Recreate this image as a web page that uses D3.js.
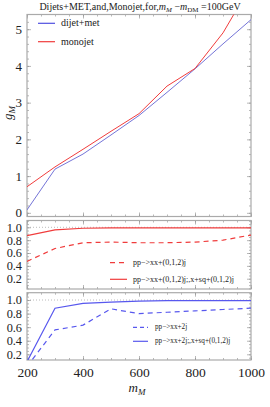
<!DOCTYPE html>
<html>
<head>
<meta charset="utf-8">
<script src="https://cdn.jsdelivr.net/npm/d3@7"></script>
<style>
  body { margin: 0; background: #fff; }
  svg text { font-family: "Liberation Serif", "DejaVu Serif", serif; fill: #222; }
</style>
</head>
<body>
<div id="chart"></div>
<script>
// m_M values (GeV)
let massValues = [200, 300, 400, 500, 600, 700, 800, 900, 1000];

// top panel: g_M
let gDijet = [0.08, 1.19, 1.6, 2.12, 2.65, 3.28, 3.92, 4.6, 5.26];
let gMonojet = [0.71, 1.25, 1.73, 2.22, 2.7, 3.45, 3.93, 4.9, 6.2];

// middle panel: monojet ratios
let monoDashed = [0.47, 0.67, 0.76, 0.77, 0.76, 0.76, 0.77, 0.8, 0.88];
let monoSolid = [0.87, 0.96, 0.985, 0.99, 0.99, 0.99, 0.99, 0.99, 0.99];

// bottom panel: dijet ratios
let dijetDashed = [0.02, 0.56, 0.63, 0.87, 0.8, 0.82, 0.84, 0.86, 0.88];
let dijetSolid = [0.09, 0.88, 0.95, 0.97, 0.985, 0.99, 0.99, 0.99, 0.99];

let topTicks = [0, 1, 2, 3, 4, 5];
let ratioTicks = [0.2, 0.4, 0.6, 0.8, 1.0];
let xTicks = [200, 400, 600, 800, 1000];

let w = 270, h = 407;
let left = 27, right = 251;
let red = "#f03c3c", blue = "#5858ee";

let svg = d3.select("#chart").append("svg")
    .attr("width", w)
    .attr("height", h);

let xScale = d3.scaleLinear().domain([200, 1000]).range([left, right]);

let panels = [
    {id: "top", domain: [-0.1, 5.4], range: [216.5, 14.5], major: topTicks, minorStep: 0.2, fmt: d3.format("d"), fs: 13},
    {id: "mid", domain: [0.04, 1.106], range: [289, 220.5], major: ratioTicks, minorStep: 0.05, fmt: d3.format(".1f"), fs: 12.3},
    {id: "bot", domain: [0.116, 1.108], range: [360, 292.7], major: ratioTicks, minorStep: 0.05, fmt: d3.format(".1f"), fs: 12.3}
];

let minorX = d3.range(200, 1001, 50);

panels.forEach(function (p) {
    p.y = d3.scaleLinear().domain(p.domain).range(p.range);
    let top = p.range[1], bottom = p.range[0];

    svg.append("clipPath").attr("id", "clip-" + p.id)
        .append("rect")
        .attr("x", left).attr("y", top)
        .attr("width", right - left).attr("height", bottom - top);

    let minorY = d3.range(Math.ceil(p.domain[0] / p.minorStep) * p.minorStep, p.domain[1], p.minorStep)
        .map(function (v) { return +v.toFixed(3); });

    // left axis with labels
    let gl = svg.append("g").attr("class", "axis")
        .attr("transform", "translate(" + left + ",0)")
        .call(d3.axisLeft(p.y).tickValues(p.major).tickSize(-4).tickPadding(5).tickFormat(p.fmt));
    svg.append("g").attr("transform", "translate(" + left + ",0)")
        .call(d3.axisLeft(p.y).tickValues(minorY).tickSize(-2).tickFormat(""));
    // right axis
    svg.append("g").attr("transform", "translate(" + right + ",0)")
        .call(d3.axisRight(p.y).tickValues(p.major).tickSize(-4).tickFormat(""));
    svg.append("g").attr("transform", "translate(" + right + ",0)")
        .call(d3.axisRight(p.y).tickValues(minorY).tickSize(-2).tickFormat(""));
    // top & bottom axes
    svg.append("g").attr("transform", "translate(0," + top + ")")
        .call(d3.axisTop(xScale).tickValues(xTicks).tickSize(-4).tickFormat(""));
    svg.append("g").attr("transform", "translate(0," + top + ")")
        .call(d3.axisTop(xScale).tickValues(minorX).tickSize(-2).tickFormat(""));
    let gb = svg.append("g").attr("transform", "translate(0," + bottom + ")")
        .call(d3.axisBottom(xScale).tickValues(xTicks).tickSize(-4).tickPadding(7)
            .tickFormat(p.id === "bot" ? d3.format("d") : ""));
    svg.append("g").attr("transform", "translate(0," + bottom + ")")
        .call(d3.axisBottom(xScale).tickValues(minorX).tickSize(-2).tickFormat(""));

    gl.selectAll("text").style("font-size", p.fs + "px");
    gb.selectAll("text").style("font-size", "13.5px");

    // frame
    svg.append("rect")
        .attr("x", left).attr("y", top)
        .attr("width", right - left).attr("height", bottom - top)
        .attr("fill", "none").attr("stroke", "#aaa").attr("stroke-width", 1.2);
});

svg.selectAll(".domain").remove();
svg.selectAll(".tick line").attr("stroke", "#888").attr("stroke-width", 0.6);

function drawLine(panel, values, color, dash, width) {
    let line = d3.line()
        .x(function (d, i) { return xScale(massValues[i]); })
        .y(function (d) { return panel.y(d); });
    svg.append("path")
        .datum(values)
        .attr("clip-path", "url(#clip-" + panel.id + ")")
        .attr("fill", "none")
        .attr("stroke", color)
        .attr("stroke-width", width || 1)
        .attr("stroke-dasharray", dash || null)
        .attr("d", line);
}

// reference line at 1.0
[panels[1], panels[2]].forEach(function (p) {
    svg.append("line")
        .attr("x1", left).attr("x2", right)
        .attr("y1", p.y(1)).attr("y2", p.y(1))
        .attr("stroke", "#aaa").attr("stroke-width", 0.8)
        .attr("stroke-dasharray", "1,2");
});

drawLine(panels[0], gDijet, "#6464d2", null, 0.9);
drawLine(panels[0], gMonojet, red, null, 1);
drawLine(panels[1], monoSolid, red, null, 1.2);
drawLine(panels[1], monoDashed, red, "5,4", 1.2);
drawLine(panels[2], dijetSolid, blue, null, 1.2);
drawLine(panels[2], dijetDashed, blue, "5,4", 1.2);

// legends
function legend(items, x1, x2, tx, fontSize) {
    items.forEach(function (it) {
        svg.append("line")
            .attr("x1", x1).attr("x2", x2).attr("y1", it.y).attr("y2", it.y)
            .attr("stroke", it.color).attr("stroke-width", 1.2)
            .attr("stroke-dasharray", it.dash || null);
        svg.append("text")
            .attr("x", tx).attr("y", it.y + fontSize * 0.3)
            .style("font-size", fontSize + "px")
            .text(it.label);
    });
}

legend([
    {y: 23.3, color: "#5050e0", label: "dijet+met"},
    {y: 41.7, color: red, label: "monojet"}
], 38, 55, 61, 10);

legend([
    {y: 262.7, color: red, dash: "5,4", label: "pp\u2212>xx+(0,1,2)j"},
    {y: 279.3, color: red, label: "pp\u2212>xx+(0,1,2)j;,x+sq+(0,1,2)j"}
], 110, 127, 133, 8);

legend([
    {y: 327.3, color: blue, dash: "4,3", label: "pp\u2212>xx+2j"},
    {y: 341.3, color: blue, label: "pp\u2212>xx+2j;,x+sq+(0,1,2)j"}
], 133, 148, 155, 7.2);

// title
let title = svg.append("text")
    .attr("x", 140).attr("y", 10)
    .attr("text-anchor", "middle")
    .style("font-size", "10px");
title.append("tspan").text("Dijets+MET,and,Monojet,for,");
title.append("tspan").style("font-style", "italic").text("m");
title.append("tspan").attr("dy", 2).style("font-size", "7px").style("font-style", "italic").text("M");
title.append("tspan").attr("dy", -2).text(" \u2212");
title.append("tspan").style("font-style", "italic").text("m");
title.append("tspan").attr("dy", 2).style("font-size", "7px").text("DM");
title.append("tspan").attr("dy", -2).text(" =100GeV");

// axis labels
let yLabel = svg.append("text")
    .attr("transform", "translate(12,113) rotate(-90)")
    .attr("text-anchor", "middle")
    .style("font-size", "13px");
yLabel.append("tspan").style("font-style", "italic").text("g");
yLabel.append("tspan").attr("dy", 3).style("font-size", "9px").style("font-style", "italic").text("M");

let xLabel = svg.append("text")
    .attr("x", 137).attr("y", 392)
    .attr("text-anchor", "middle")
    .style("font-size", "13px");
xLabel.append("tspan").style("font-style", "italic").text("m");
xLabel.append("tspan").attr("dy", 3).style("font-size", "9px").style("font-style", "italic").text("M");
</script>
</body>
</html>
